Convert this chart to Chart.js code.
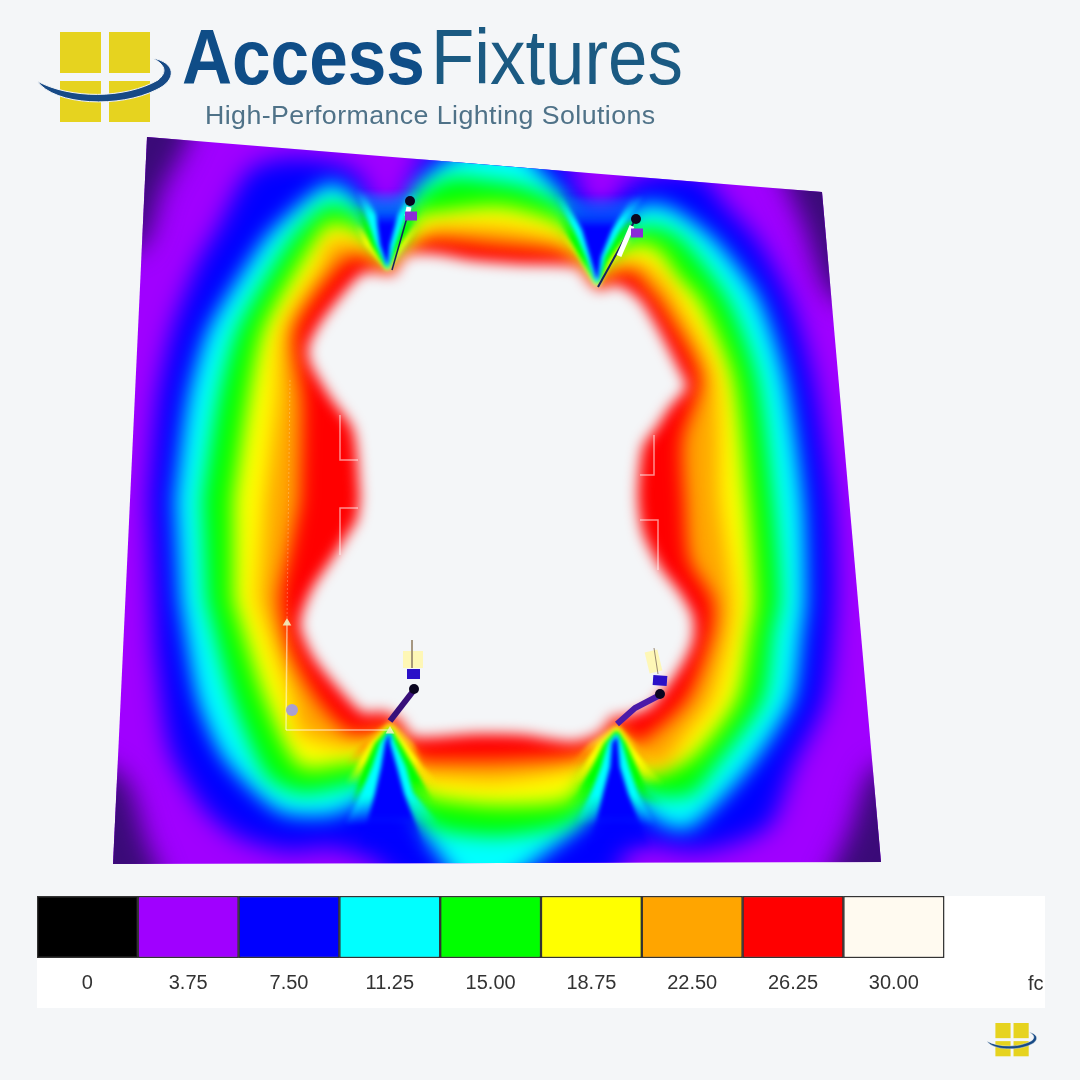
<!DOCTYPE html>
<html>
<head>
<meta charset="utf-8">
<title>Access Fixtures</title>
<script src="https://cdn.jsdelivr.net/npm/chart.js@4/dist/chart.umd.js"></script>
<style>
html, body { margin: 0; padding: 0; background: #f4f6f8; width: 1080px; height: 1080px; overflow: hidden; }
canvas, svg, .txt { position: absolute; }
#heat { left: 0; top: 0; }
#scaleBar { left: 37px; top: 896px; background: #fff; }
.txt { white-space: nowrap; font-family: "Liberation Sans", Arial, sans-serif; transform-origin: left top; line-height: 1; }
</style>
</head>
<body>
<canvas id="heat" width="1080" height="1080"></canvas>
<canvas id="scaleBar" width="1008" height="112"></canvas>

<svg width="1080" height="1080" style="left:0;top:0;pointer-events:none">
  <defs>
    <g id="mark">
      <rect x="60" y="32" width="41" height="41" fill="#e6d31f"/>
      <rect x="109" y="32" width="41" height="41" fill="#e6d31f"/>
      <rect x="60" y="81" width="41" height="41" fill="#e6d31f"/>
      <rect x="109" y="81" width="41" height="41" fill="#e6d31f"/>
      <path d="M37 81 C70 99 125 99 158 80 C168 72 165 64 152 58 C176 62 178 80 156 90 C120 108 55 106 37 81 Z" fill="#174a86" stroke="#f4f6f8" stroke-width="1"/>
    </g>
  </defs>
  <use href="#mark"/>
  <use href="#mark" transform="translate(988 1023) scale(0.37 0.37) translate(-40 -32)"/>
</svg>

<div class="txt" id="wordA" style="left:182px;top:19px;font-size:77px;font-weight:bold;color:#0f4d87;transform:scaleX(.9)">Access</div>
<div class="txt" id="wordB" style="left:431px;top:19px;font-size:77px;color:#1b5a82;transform:scaleX(.92)">Fixtures</div>
<div class="txt" id="tagline" style="left:205px;top:103px;font-size:25px;color:#4f7288;letter-spacing:.4px;transform:scaleX(1.07)">High-Performance Lighting Solutions</div>
<div class="txt" id="unit" style="left:1028px;top:973px;width:16px;overflow:hidden;font-size:20px;color:#333">fc</div>

<script>
// scale bar
const scaleLabels = ['0', '3.75', '7.50', '11.25', '15.00', '18.75', '22.50', '26.25', '30.00', ''];
const scaleColors = ['#000000', '#a000ff', '#0000ff', '#00ffff', '#00ff00', '#ffff00', '#ffa500', '#ff0000', '#fffaf0', '#ffffff'];
const scaleCells = [1, 1, 1, 1, 1, 1, 1, 1, 1, 0];

// plate outline and iso-lines, in plan units
const plateEdge = [[147, 137], [822, 192], [881, 862], [113, 864]];

const cornerTL = [[110, 110], [195, 110], [186, 145], [162, 190], [144, 245], [110, 255]];
const cornerTR = [[775, 160], [860, 160], [860, 305], [828, 292], [804, 225]];
const cornerBR = [[822, 890], [910, 890], [910, 765], [872, 770], [850, 830]];
const cornerBL = [[85, 890], [162, 890], [146, 840], [126, 780], [85, 755]];

const isoViolet = [[148, 500], [157, 400], [172, 330], [198, 263], [217, 230], [250, 170], [290, 158], [330, 162], [355, 172], [372, 200],
    [384, 250], [387, 270], [392, 245], [402, 200], [415, 175], [425, 150], [560, 150], [575, 180], [590, 215], [596, 275], [605, 240], [622, 190],
    [650, 175], [700, 175], [725, 205], [757, 240], [790, 300], [813, 377], [832, 500], [835, 600], [825, 700], [793, 767], [770, 825], [730, 845],
    [690, 852], [650, 845], [625, 855], [612, 885], [440, 885], [400, 885], [375, 862], [330, 848], [290, 852], [240, 838], [205, 810], [170, 750], [155, 650]];

const isoAzure = [[175, 500], [188, 400], [208, 330], [248, 263], [272, 230], [330, 183], [360, 203], [378, 245], [387, 268], [398, 235], [415, 190],
    [440, 165], [470, 150], [520, 150], [535, 165], [558, 190], [582, 230], [595, 275], [597, 287], [608, 255], [622, 225], [640, 205], [670, 207],
    [715, 240], [758, 297], [785, 377], [803, 500], [806, 600], [802, 633], [792, 700], [750, 767], [690, 828], [665, 825], [640, 805], [627, 770],
    [617, 735], [612, 760], [590, 815], [550, 850], [500, 885], [465, 885], [435, 850], [410, 810], [398, 770], [391, 735], [385, 760], [370, 795],
    [333, 815], [280, 812], [225, 760], [198, 700], [180, 600]];

const isoSpring = [[202, 500], [218, 400], [237, 330], [275, 263], [298, 230], [330, 203], [360, 217], [378, 255], [387, 270], [395, 255], [405, 225],
    [420, 195], [450, 178], [490, 181], [525, 187], [560, 205], [580, 240], [595, 280], [597, 288], [605, 265], [620, 240], [640, 227], [660, 227],
    [683, 240], [728, 300], [757, 377], [773, 500], [780, 600], [773, 633], [763, 700], [715, 767], [690, 795], [640, 792], [622, 755], [617, 732],
    [608, 750], [603, 767], [593, 800], [565, 825], [500, 836], [440, 830], [420, 815], [405, 785], [396, 745], [391, 728], [385, 745], [370, 778],
    [350, 785], [300, 793], [267, 776], [233, 700], [206, 600]];

const isoLime = [[233, 500], [248, 400], [263, 330], [300, 263], [322, 230], [330, 222], [360, 232], [380, 262], [388, 272], [396, 262], [408, 240],
    [417, 214], [430, 213], [500, 206], [560, 223], [580, 252], [596, 283], [605, 272], [615, 255], [640, 243], [660, 250], [677, 275], [700, 300],
    [733, 377], [748, 500], [755, 600], [750, 633], [737, 700], [690, 760], [640, 775], [622, 745], [618, 728], [607, 745], [590, 767],
    [570, 800], [500, 806], [440, 800], [420, 792], [405, 770], [396, 740], [392, 725], [384, 740], [370, 760], [350, 763], [300, 767], [265, 700],
    [233, 600]];

const isoAmber = [[265, 500], [277, 400], [283, 330], [322, 263], [330, 241], [360, 245], [380, 265], [388, 273], [396, 265], [420, 240], [430, 228],
    [500, 227], [560, 240], [580, 260], [596, 285], [612, 265], [640, 262], [660, 276], [677, 300], [715, 377], [720, 500], [733, 600], [730, 633],
    [712, 700], [690, 730], [662, 767], [640, 760], [625, 740], [618, 726], [607, 742], [580, 767], [500, 781], [440, 778], [420, 775], [405, 755],
    [394, 725], [384, 735], [350, 747], [300, 733], [292, 700], [258, 600]];

const isoOrange = [[300, 500], [302, 400], [295, 330], [341, 263], [360, 256], [380, 268], [388, 273], [398, 265], [412, 250], [430, 239], [500, 245],
    [560, 252], [580, 267], [596, 287], [612, 275], [635, 272], [645, 285], [660, 302], [700, 377], [683, 440], [685, 500], [690, 560], [713, 600],
    [712, 633], [687, 700], [640, 743], [628, 738], [619, 724], [606, 737], [580, 755], [500, 761], [440, 761], [420, 760], [406, 745], [396, 725],
    [384, 730], [350, 733], [317, 700], [290, 650], [280, 600], [290, 550]];

const isoHole = [[360, 497], [353, 430], [330, 397], [310, 363], [308, 347], [320, 323], [340, 297], [363, 273], [387, 274], [393, 275], [407, 255],
    [437, 254], [470, 260], [520, 264], [577, 267], [590, 283], [600, 290], [612, 285], [623, 287], [640, 300], [657, 327], [683, 377], [687, 387],
    [670, 407], [657, 427], [643, 447], [638, 497], [643, 533], [660, 567], [680, 593], [693, 617], [693, 640], [683, 663], [667, 687], [650, 707],
    [623, 717], [613, 717], [600, 733], [573, 742], [523, 735], [477, 734], [413, 737], [400, 720], [383, 712], [363, 713], [337, 687], [313, 657],
    [300, 627], [303, 610], [313, 587], [333, 557], [357, 520]];

// tight fans of iso-lines under each fitting
const fanTLy = [[355, 225], [365, 245], [386, 270], [389, 270], [405, 245], [420, 225]];
const fanTLg = [[352, 205], [358, 215], [371, 245], [386, 269], [389, 269], [400, 245], [418, 215], [425, 205]];
const fanTLc = [[356, 190], [366, 215], [376, 245], [386, 267], [389, 267], [395, 245], [406, 215], [420, 190]];
const fanTLb = [[360, 180], [366, 195], [376, 215], [380, 245], [387, 265], [388, 265], [390, 245], [398, 215], [408, 195], [415, 180]];

const fanTRy = [[558, 232], [578, 256], [595, 286], [599, 286], [610, 265], [632, 240]];
const fanTRg = [[555, 212], [565, 230], [582, 262], [595, 284], [599, 284], [608, 262], [625, 235], [640, 222]];
const fanTRc = [[555, 195], [574, 230], [586, 257], [595, 282], [599, 282], [605, 257], [620, 230], [645, 195]];
const fanTRb = [[555, 180], [565, 200], [582, 230], [590, 257], [596, 279], [598, 279], [601, 257], [612, 230], [630, 200], [640, 180]];

const fanBLo = [[388, 722], [362, 743], [345, 765], [428, 770], [413, 743], [392, 722]];
const fanBLy = [[388, 726], [370, 743], [356, 767], [345, 785], [440, 785], [423, 767], [406, 743], [392, 726]];
const fanBLg = [[388, 729], [375, 743], [364, 767], [350, 805], [435, 805], [414, 767], [400, 743], [391, 729]];
const fanBLc = [[388, 732], [380, 743], [372, 767], [361, 793], [345, 825], [440, 825], [413, 793], [406, 767], [395, 743], [391, 732]];
const fanBLb = [[388, 735], [385, 743], [381, 767], [375, 793], [360, 850], [425, 850], [404, 793], [397, 767], [390, 743], [390, 735]];

const fanBRo = [[615, 725], [590, 743], [570, 765], [655, 765], [635, 743], [619, 725]];
const fanBRy = [[615, 728], [598, 743], [583, 767], [570, 785], [665, 785], [647, 767], [630, 743], [619, 728]];
const fanBRg = [[615, 731], [604, 743], [592, 767], [578, 793], [565, 805], [665, 805], [648, 793], [637, 767], [626, 743], [618, 731]];
const fanBRc = [[615, 734], [608, 743], [601, 767], [591, 793], [575, 825], [655, 825], [638, 793], [629, 767], [622, 743], [618, 734]];
const fanBRb = [[616, 737], [612, 743], [610, 767], [603, 793], [590, 850], [650, 850], [628, 793], [620, 767], [618, 743], [617, 737]];

// rows where each fan melts back into the wide bands: [transparent, solid]
const fadeTL = [[225, 242], [205, 230], [190, 215], [190, 225]];
const fadeTR = [[232, 255], [212, 238], [195, 222], [190, 228]];
const fadeB = [[765, 745], [785, 760], [805, 780], [825, 795], [850, 815]];

// fittings and site marks
const armTL = [[392, 270], [408, 214]];
const armTR = [[598, 287], [634, 222]];
const armBL = [[390, 721], [414, 690]];
const armBR = [[617, 724], [635, 708], [660, 695]];
const stubTL = [[409, 207], [407, 216]];
const stubTR = [[632, 226], [619, 256]];
const headTL = [[405, 216], [417, 216]];
const headTR = [[631, 233], [643, 233]];
const headBL = [[407, 674], [420, 674]];
const headBR = [[653, 680], [667, 681]];
const glowBL = [[413, 651], [413, 668]];
const glowBR = [[651, 651], [656, 672]];
const beamBL = [[412, 640], [412, 668]];
const beamBR = [[654, 648], [658, 674]];
const tipPoints = [[410, 201], [636, 219], [414, 689], [660, 694]];
const axisUp = [[286, 730], [287, 622]];
const axisFar = [[287, 622], [290, 380]];
const axisAcross = [[286, 730], [392, 730]];
const axisTips = [[287, 623], [390, 731]];
const axisBall = [[292, 710]];
const windowA = [[340, 415], [340, 460], [358, 460]];
const windowB = [[340, 555], [340, 508], [358, 508]];
const windowC = [[640, 475], [654, 475], [654, 435]];
const windowD = [[640, 520], [658, 520], [658, 570]];

const pts = list => list.map(([x, y]) => ({x, y}));
const heatCtx = document.getElementById('heat').getContext('2d');

const area = (data, color, blur, tension) => ({
    data: pts(data), backgroundColor: color, borderWidth: 0, showLine: true,
    fill: 'shape', tension: tension === undefined ? 0.25 : tension, pointRadius: 0, blur: blur
});
const stroke = (data, color, width, dash) => ({
    data: pts(data), borderColor: color, borderWidth: width, showLine: true,
    fill: false, pointRadius: 0, borderCapStyle: 'butt', borderDash: dash || []
});
const dots = (data, color, radius, style) => ({
    data: pts(data), backgroundColor: color, borderWidth: 0, showLine: false,
    pointRadius: radius, pointStyle: style || 'circle'
});

// rgb triple, fading out between two rows
const fadeFill = (rgb, [clear, solid]) => {
    const g = heatCtx.createLinearGradient(0, clear, 0, solid);
    g.addColorStop(0, 'rgba(' + rgb + ',0)');
    g.addColorStop(1, 'rgba(' + rgb + ',1)');
    return g;
};
const fan = (list, rgbs, fades) => list.map((f, i) => area(f, fadeFill(rgbs[i], fades[i]), 2, 0));
const upFan = ['255,255,0', '0,255,0', '0,255,255', '0,0,255'];
const downFan = ['255,165,0', '255,255,0', '0,255,0', '0,255,255', '0,0,255'];

// drawn bottom up
const layers = [
    area(plateEdge, '#a000ff', 0, 0),
    area(cornerTL, '#3a0a78', 13), area(cornerTR, '#3a0a78', 13), area(cornerBR, '#3a0a78', 13), area(cornerBL, '#3a0a78', 13),
    area(isoViolet, '#0000ff', 12),
    area(isoAzure, '#00ffff', 10),
    area(isoSpring, '#00ff00', 10),
    area(isoLime, '#ffff00', 10),
    area(isoAmber, '#ffa500', 10),
    area(isoOrange, '#ff0000', 9),
    ...fan([fanTLy, fanTLg, fanTLc, fanTLb], upFan, fadeTL),
    ...fan([fanTRy, fanTRg, fanTRc, fanTRb], upFan, fadeTR),
    ...fan([fanBLo, fanBLy, fanBLg, fanBLc, fanBLb], downFan, fadeB),
    ...fan([fanBRo, fanBRy, fanBRg, fanBRc, fanBRb], downFan, fadeB),
    area(isoHole, '#f4f6f8', 7),
    stroke(axisUp, 'rgba(255,255,235,.55)', 1.5), stroke(axisAcross, 'rgba(255,255,255,.55)', 1.5),
    stroke(axisFar, 'rgba(255,255,235,.25)', 1, [2, 2]),
    dots(axisTips, 'rgba(240,240,190,.9)', 5, 'triangle'), dots(axisBall, '#a99fd0', 6),
    stroke(windowA, 'rgba(255,255,255,.55)', 1.5), stroke(windowB, 'rgba(255,255,255,.55)', 1.5),
    stroke(windowC, 'rgba(255,255,255,.55)', 1.5), stroke(windowD, 'rgba(255,255,255,.55)', 1.5),
    stroke(armTL, '#16235e', 1.5), stroke(armTR, '#16235e', 2),
    stroke(stubTL, '#ffffff', 5), stroke(stubTR, '#ffffff', 5),
    stroke(armBL, '#38107a', 6), stroke(armBR, '#4a1aa8', 6),
    stroke(glowBL, 'rgba(255,247,170,.85)', 20), stroke(glowBR, 'rgba(255,247,170,.85)', 13),
    stroke(beamBL, '#9a8a70', 1), stroke(beamBR, '#9a8a70', 1),
    stroke(headTL, '#8a2bd8', 9), stroke(headTR, '#8a2bd8', 9),
    stroke(headBL, '#2a10c8', 10), stroke(headBR, '#2a10c8', 10),
    dots(tipPoints, '#0a0520', 5)
];
layers.forEach((d, i) => { d.order = layers.length - i; });

// soft iso-bands, kept inside the plate; must run before the filler
const softBands = {
    id: 'softBands',
    beforeDatasetDraw(chart, args) {
        const blur = chart.data.datasets[args.index].blur;
        if (!blur) return;
        const {ctx, scales} = chart;
        ctx.save();
        ctx.beginPath();
        plateEdge.forEach(([x, y]) => ctx.lineTo(scales.x.getPixelForValue(x), scales.y.getPixelForValue(y)));
        ctx.closePath();
        ctx.clip();
        ctx.filter = 'blur(' + blur + 'px)';
    },
    afterDatasetDraw(chart, args) {
        if (chart.data.datasets[args.index].blur) chart.ctx.restore();
    }
};
Chart.unregister(Chart.Filler);
Chart.register(softBands, Chart.Filler);

new Chart(document.getElementById('heat'), {
    type: 'scatter',
    data: {datasets: layers},
    options: {
        responsive: false,
        animation: false,
        events: [],
        layout: {padding: 0, autoPadding: false},
        plugins: {legend: {display: false}, tooltip: {enabled: false}},
        scales: {
            x: {type: 'linear', display: false, min: 0, max: 1080},
            y: {type: 'linear', display: false, min: 0, max: 1080, reverse: true}
        }
    }
});

new Chart(document.getElementById('scaleBar'), {
    type: 'bar',
    data: {
        labels: scaleLabels,
        datasets: [{
            data: scaleCells,
            backgroundColor: scaleColors,
            borderColor: '#333333',
            borderWidth: 1.5,
            borderSkipped: false,
            barPercentage: 1,
            categoryPercentage: 1
        }]
    },
    options: {
        responsive: false,
        animation: false,
        events: [],
        layout: {padding: 0},
        plugins: {legend: {display: false}, tooltip: {enabled: false}},
        scales: {
            x: {
                grid: {display: false, drawTicks: false},
                border: {display: false},
                afterFit: axis => { axis.height = 50; },
                ticks: {
                    padding: 13, maxRotation: 0, autoSkip: false, color: '#333333',
                    font: {family: '"Liberation Sans", Arial, sans-serif', size: 20}
                }
            },
            y: {display: false, min: 0, max: 1}
        }
    }
});
</script>
</body>
</html>
